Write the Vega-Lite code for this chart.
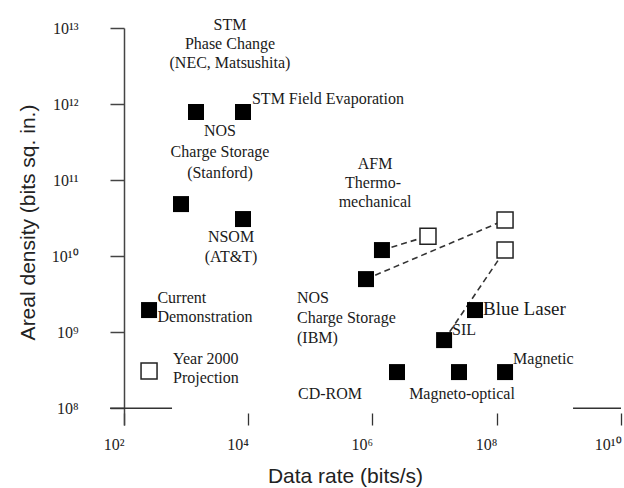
{
  "$schema": "https://vega.github.io/schema/vega-lite/v6.json",
  "autosize": "none",
  "padding": {"left": 124, "top": 28, "right": 3, "bottom": 63},
  "width": 497,
  "height": 397,
  "background": "white",
  "config": {"view": {"stroke": null}},
  "datasets": {
    "points": [
      {"x": 1442, "y": 7.85e11, "kind": "current"},
      {"x": 8226, "y": 7.85e11, "kind": "current"},
      {"x": 827, "y": 4.83e10, "kind": "current"},
      {"x": 8226, "y": 3.07e10, "kind": "current"},
      {"x": 253, "y": 1.95e9, "kind": "current"},
      {"x": 1.42e6, "y": 1.2e10, "kind": "current"},
      {"x": 7.86e5, "y": 4.98e9, "kind": "current"},
      {"x": 4.47e7, "y": 1.95e9, "kind": "current"},
      {"x": 1.42e7, "y": 7.85e8, "kind": "current"},
      {"x": 2.48e6, "y": 2.98e8, "kind": "current"},
      {"x": 2.47e7, "y": 2.98e8, "kind": "current"},
      {"x": 1.36e8, "y": 2.98e8, "kind": "current"},
      {"x": 253, "y": 3.07e8, "kind": "projection"},
      {"x": 7.82e6, "y": 1.83e10, "kind": "projection"},
      {"x": 1.36e8, "y": 2.98e10, "kind": "projection"},
      {"x": 1.36e8, "y": 1.2e10, "kind": "projection"}
    ],
    "links": [
      {"pair": "a", "x": 1.42e6, "y": 1.2e10},
      {"pair": "a", "x": 7.82e6, "y": 1.83e10},
      {"pair": "b", "x": 7.86e5, "y": 4.98e9},
      {"pair": "b", "x": 1.36e8, "y": 2.98e10},
      {"pair": "c", "x": 1.42e7, "y": 7.85e8},
      {"pair": "c", "x": 1.36e8, "y": 1.2e10}
    ],
    "axisbits": [
      {"x": 59.6, "x2": 593, "y": 1e8, "y2": 1e8},
      {"x": 1.69e9, "x2": 1e10, "y": 1e8, "y2": 1e8}
    ],
    "labels": [
      {"text": "STM", "x": 5080, "y": 1.09e13, "group": "center"},
      {"text": "Phase Change", "x": 5080, "y": 6.16e12, "group": "center"},
      {"text": "(NEC, Matsushita)", "x": 5080, "y": 3.46e12, "group": "center"},
      {"text": "NOS", "x": 3510, "y": 4.41e11, "group": "center"},
      {"text": "Charge Storage", "x": 3510, "y": 2.34e11, "group": "center"},
      {"text": "(Stanford)", "x": 3510, "y": 1.24e11, "group": "center"},
      {"text": "NSOM", "x": 5275, "y": 1.78e10, "group": "center"},
      {"text": "(AT&T)", "x": 5275, "y": 9.7e9, "group": "center"},
      {"text": "AFM", "x": 1.1e6, "y": 1.63e11, "group": "center"},
      {"text": "Thermo-", "x": 1.02e6, "y": 9.14e10, "group": "center"},
      {"text": "mechanical", "x": 1.1e6, "y": 5.14e10, "group": "center"},
      {"text": "Magneto-optical", "x": 2.76e7, "y": 1.53e8, "group": "center"},
      {"text": "STM Field Evaporation", "x": 11480, "y": 1.164e12, "group": "left"},
      {"text": "Current", "x": 345, "y": 2.8e9, "group": "left"},
      {"text": "Demonstration", "x": 345, "y": 1.575e9, "group": "left"},
      {"text": "Year 2000", "x": 615, "y": 4.41e8, "group": "left"},
      {"text": "Projection", "x": 615, "y": 2.48e8, "group": "left"},
      {"text": "NOS", "x": 6.09e4, "y": 2.8e9, "group": "left"},
      {"text": "Charge Storage", "x": 6.09e4, "y": 1.53e9, "group": "left"},
      {"text": "(IBM)", "x": 6.09e4, "y": 8.34e8, "group": "left"},
      {"text": "SIL", "x": 1.905e7, "y": 1.06e9, "group": "left"},
      {"text": "Magnetic", "x": 1.83e8, "y": 4.41e8, "group": "left"},
      {"text": "CD-ROM", "x": 6.32e4, "y": 1.53e8, "group": "left"},
      {"text": "Blue Laser", "x": 6.0e7, "y": 2.01e9, "group": "large"}
    ]
  },
  "encoding": {
    "x": {
      "field": "x", "type": "quantitative",
      "scale": {"type": "log", "domain": [100, 1e10], "nice": false},
      "axis": {
        "title": "Data rate (bits/s)",
        "values": [100, 1e4, 1e6, 1e8, 1e10],
        "labelExpr": "datum.value == 100 ? '10²' : datum.value == 10000 ? '10⁴' : datum.value == 1000000 ? '10⁶' : datum.value == 100000000 ? '10⁸' : '10¹⁰'",
        "domain": false,
        "grid": false,
        "tickSize": -12,
        "tickWidth": 1.3,
        "tickColor": "#333",
        "labelFont": "Liberation Serif",
        "labelFontSize": 16,
        "labelColor": "#222",
        "labelAlign": "right",
        "labelDx": -2,
        "labelPadding": 23,
        "labelFlush": false,
        "labelOverlap": false,
        "titleFont": "Liberation Sans",
        "titleFontSize": 21,
        "titleFontWeight": "normal",
        "titleColor": "#222",
        "titleX": 221,
        "titleY": 51,
        "titleAlign": "center",
        "titleBaseline": "middle"
      }
    },
    "y": {
      "field": "y", "type": "quantitative",
      "scale": {"type": "log", "domain": [6e7, 1e13], "nice": false},
      "axis": {
        "title": "Areal density (bits sq. in.)",
        "values": [1e8, 1e9, 1e10, 1e11, 1e12, 1e13],
        "labelExpr": "datum.value == 1e8 ? '10⁸' : datum.value == 1e9 ? '10⁹' : datum.value == 1e10 ? '10¹⁰' : datum.value == 1e11 ? '10¹¹' : datum.value == 1e12 ? '10¹²' : '10¹³'",
        "grid": false,
        "domainColor": "#444",
        "domainWidth": 1.5,
        "tickSize": 14,
        "tickWidth": 1.5,
        "tickColor": "#444",
        "labelFont": "Liberation Serif",
        "labelFontSize": 16,
        "labelColor": "#222",
        "labelPadding": 32,
        "labelFlush": false,
        "labelOverlap": false,
        "titleFont": "Liberation Sans",
        "titleFontSize": 21,
        "titleFontWeight": "normal",
        "titleColor": "#222",
        "titleX": -96,
        "titleY": 194,
        "titleAngle": -90,
        "titleAlign": "center",
        "titleBaseline": "middle"
      }
    }
  },
  "layer": [
    {
      "data": {"name": "axisbits"},
      "mark": {"type": "rule", "color": "#333", "strokeWidth": 1.5, "clip": false},
      "encoding": {"x2": {"field": "x2"}, "y2": {"field": "y2"}}
    },
    {
      "data": {"name": "links"},
      "mark": {"type": "line", "color": "#333", "strokeWidth": 1.6, "strokeDash": [6, 4]},
      "encoding": {"detail": {"field": "pair"}}
    },
    {
      "data": {"name": "points"},
      "transform": [{"filter": "datum.kind == 'current'"}],
      "mark": {"type": "point", "shape": "square", "filled": true, "color": "#000", "size": 256, "opacity": 1}
    },
    {
      "data": {"name": "points"},
      "transform": [{"filter": "datum.kind == 'projection'"}],
      "mark": {"type": "point", "shape": "square", "filled": false, "fill": "white", "stroke": "#222", "strokeWidth": 1.5, "size": 256, "opacity": 1}
    },
    {
      "data": {"name": "labels"},
      "transform": [{"filter": "datum.group == 'center'"}],
      "mark": {"type": "text", "align": "center", "baseline": "middle", "font": "Liberation Serif", "fontSize": 16, "color": "#1a1a1a"},
      "encoding": {"text": {"field": "text"}}
    },
    {
      "data": {"name": "labels"},
      "transform": [{"filter": "datum.group == 'left'"}],
      "mark": {"type": "text", "align": "left", "baseline": "middle", "font": "Liberation Serif", "fontSize": 16, "color": "#1a1a1a"},
      "encoding": {"text": {"field": "text"}}
    },
    {
      "data": {"name": "labels"},
      "transform": [{"filter": "datum.group == 'large'"}],
      "mark": {"type": "text", "align": "left", "baseline": "middle", "font": "Liberation Serif", "fontSize": 19, "color": "#1a1a1a"},
      "encoding": {"text": {"field": "text"}}
    }
  ]
}
